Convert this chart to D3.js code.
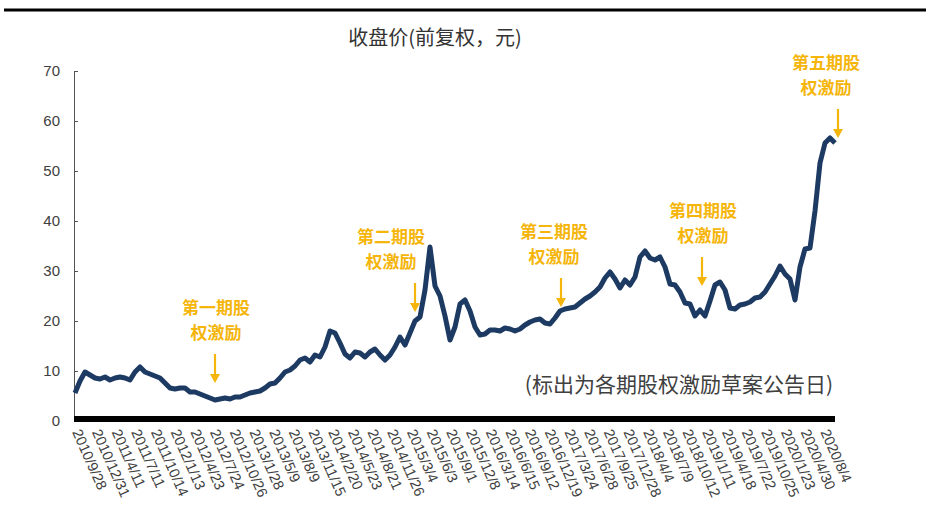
<!DOCTYPE html>
<html>
<head>
<meta charset="utf-8">
<script src="https://cdn.jsdelivr.net/npm/d3@7"></script>
<style>
  body { margin: 0; background: #fff; }
  svg { display: block; }
</style>
</head>
<body>
<svg id="chart" width="926" height="508"></svg>
<script>

// tick labels on the x axis (one every 63 trading days)
var dateLabels = [
  '2010/9/28', '2010/12/31', '2011/4/11', '2011/7/11', '2011/10/14',
  '2012/1/13', '2012/4/23', '2012/7/24', '2012/10/26', '2013/1/28',
  '2013/5/9', '2013/8/9', '2013/11/15', '2014/2/20', '2014/5/23',
  '2014/8/21', '2014/11/26', '2015/3/4', '2015/6/3', '2015/9/1',
  '2015/12/8', '2016/3/14', '2016/6/15', '2016/9/12', '2016/12/19',
  '2017/3/24', '2017/6/28', '2017/9/25', '2017/12/28', '2018/4/4',
  '2018/7/9', '2018/10/12', '2019/1/11', '2019/4/18', '2019/7/22',
  '2019/10/25', '2020/1/23', '2020/4/30', '2020/8/4'
];

// closing price, sampled every 16 trading days
var prices = [
  5.6, 8.0, 9.8, 9.2, 8.6, 8.4, 8.8, 8.2, 8.6, 8.8,
  8.6, 8.2, 9.8, 10.8, 9.8, 9.4, 9.0, 8.6, 7.6, 6.6,
  6.4, 6.6, 6.6, 5.8, 5.8, 5.4, 5.0, 4.6, 4.2, 4.4,
  4.6, 4.4, 4.8, 4.8, 5.2, 5.6, 5.8, 6.0, 6.6, 7.4,
  7.6, 8.6, 9.8, 10.2, 11.0, 12.2, 12.6, 11.8, 13.2, 12.8,
  14.8, 18.0, 17.6, 15.6, 13.4, 12.6, 13.8, 13.6, 12.8, 13.8,
  14.4, 13.2, 12.2, 13.2, 14.8, 16.8, 15.2, 17.6, 20.0, 20.8,
  26.2, 34.8, 27.0, 25.0, 21.0, 16.2, 18.8, 23.4, 24.2, 22.0,
  18.8, 17.2, 17.4, 18.2, 18.2, 18.0, 18.6, 18.4, 18.0, 18.4,
  19.2, 19.8, 20.2, 20.4, 19.6, 19.4, 20.6, 22.0, 22.4, 22.6,
  22.8, 23.6, 24.4, 25.0, 25.8, 26.8, 28.6, 29.8, 28.4, 26.6,
  28.2, 27.2, 28.8, 32.8, 34.0, 32.6, 32.2, 32.8, 30.8, 27.4,
  27.2, 25.8, 23.6, 23.4, 21.0, 22.2, 21.0, 24.0, 27.2, 27.8,
  26.2, 22.6, 22.4, 23.2, 23.4, 23.8, 24.6, 24.8, 25.8, 27.4,
  29.0, 31.0, 29.4, 28.4, 24.2, 30.8, 34.4, 34.6, 42.0, 51.6,
  55.6, 56.6, 55.6
];

var yTicks = [0, 10, 20, 30, 40, 50, 60, 70];

// the five option plan announcements: sample index and label
var grantIndex = [28, 68, 97, 125, 152];
var grantLines = [
  ['第一期股', '权激励'],
  ['第二期股', '权激励'],
  ['第三期股', '权激励'],
  ['第四期股', '权激励'],
  ['第五期股', '权激励']
];

var LABEL_STEP = 63;
var SAMPLE_STEP = 16;

var svg = d3.select('#chart');
var fontCn = '"Noto Sans CJK SC", "Noto Sans", sans-serif';
var navy = '#1d3a63';
var gold = '#f5b50a';

// top rule
svg.append('line')
  .attr('x1', 4)
  .attr('x2', 926)
  .attr('y1', 10)
  .attr('y2', 10)
  .attr('stroke', '#000')
  .attr('stroke-width', 3);

// scales
var x = d3.scaleLinear()
  .domain([0, (prices.length - 1) * SAMPLE_STEP])
  .range([75, 835]);

var y = d3.scaleLinear()
  .domain([0, 70])
  .range([421, 71]);

// title
svg.append('text')
  .attr('x', 435)
  .attr('y', 45)
  .attr('text-anchor', 'middle')
  .attr('fill', '#333')
  .style('font-family', fontCn)
  .style('font-size', '20px')
  .text('收盘价(前复权，元)');

// y axis
var yAxis = d3.axisRight(y)
  .tickValues(yTicks)
  .tickSize(4)
  .tickFormat(d3.format('d'));

var yg = svg.append('g')
  .attr('transform', 'translate(74,0)')
  .call(yAxis);

yg.select('.domain')
  .attr('stroke', '#555');
yg.selectAll('.tick line')
  .attr('stroke', '#555');
yg.selectAll('.tick text')
  .attr('x', -14)
  .attr('text-anchor', 'end')
  .attr('fill', '#404040')
  .style('font-family', '"Liberation Sans", sans-serif')
  .style('font-size', '15px');

// x axis: a thick black bar with rotated date labels
svg.append('line')
  .attr('x1', 74)
  .attr('x2', 835)
  .attr('y1', 419)
  .attr('y2', 419)
  .attr('stroke', '#000')
  .attr('stroke-width', 6);

svg.append('g')
  .selectAll('text')
  .data(dateLabels)
  .enter()
  .append('text')
  .attr('transform', function (d, i) {
    return 'translate(' + (x(i * LABEL_STEP) - 3) + ',432) rotate(66)';
  })
  .attr('fill', '#404040')
  .style('font-family', '"Liberation Sans", sans-serif')
  .style('font-size', '14.5px')
  .text(function (d) { return d; });

// price line
var line = d3.line()
  .x(function (d, i) { return x(i * SAMPLE_STEP); })
  .y(function (d) { return y(d); });

svg.append('path')
  .datum(prices)
  .attr('d', line)
  .attr('fill', 'none')
  .attr('stroke', navy)
  .attr('stroke-width', 5)
  .attr('stroke-linejoin', 'round');

// annotations: text block above, arrow pointing down at the line
var arrowGap = [17, 9, 4, 24, 5];
var arrowShift = [0, 0, 1, 2, 3];
var textShift = [1, -24, -7, 1, -12];
var ARROW_LEN = 29;

grantIndex.forEach(function (idx, k) {
  var px = x(idx * SAMPLE_STEP) + arrowShift[k];
  var tip = y(prices[idx]) - arrowGap[k];
  var top = tip - ARROW_LEN;
  var cx = px + textShift[k];

  svg.append('line')
    .attr('x1', px)
    .attr('x2', px)
    .attr('y1', top)
    .attr('y2', tip - 6)
    .attr('stroke', gold)
    .attr('stroke-width', 2.2);

  svg.append('path')
    .attr('d', 'M' + (px - 5) + ',' + (tip - 9) + 'L' + (px + 5) + ',' + (tip - 9) + 'L' + px + ',' + tip + 'Z')
    .attr('fill', gold);

  // two separate lines of text, stacked
  grantLines[k].forEach(function (t, j) {
    svg.append('text')
      .attr('x', cx)
      .attr('y', top - 40 + j * 24.8)
      .attr('text-anchor', 'middle')
      .attr('fill', gold)
      .style('font-family', fontCn)
      .style('font-size', '17px')
      .style('font-weight', 'bold')
      .text(t);
  });
});

// footnote
svg.append('text')
  .attr('x', 833)
  .attr('y', 392)
  .attr('text-anchor', 'end')
  .attr('fill', '#404040')
  .style('font-family', fontCn)
  .style('font-size', '21px')
  .text('(标出为各期股权激励草案公告日)');

</script>
</body>
</html>
